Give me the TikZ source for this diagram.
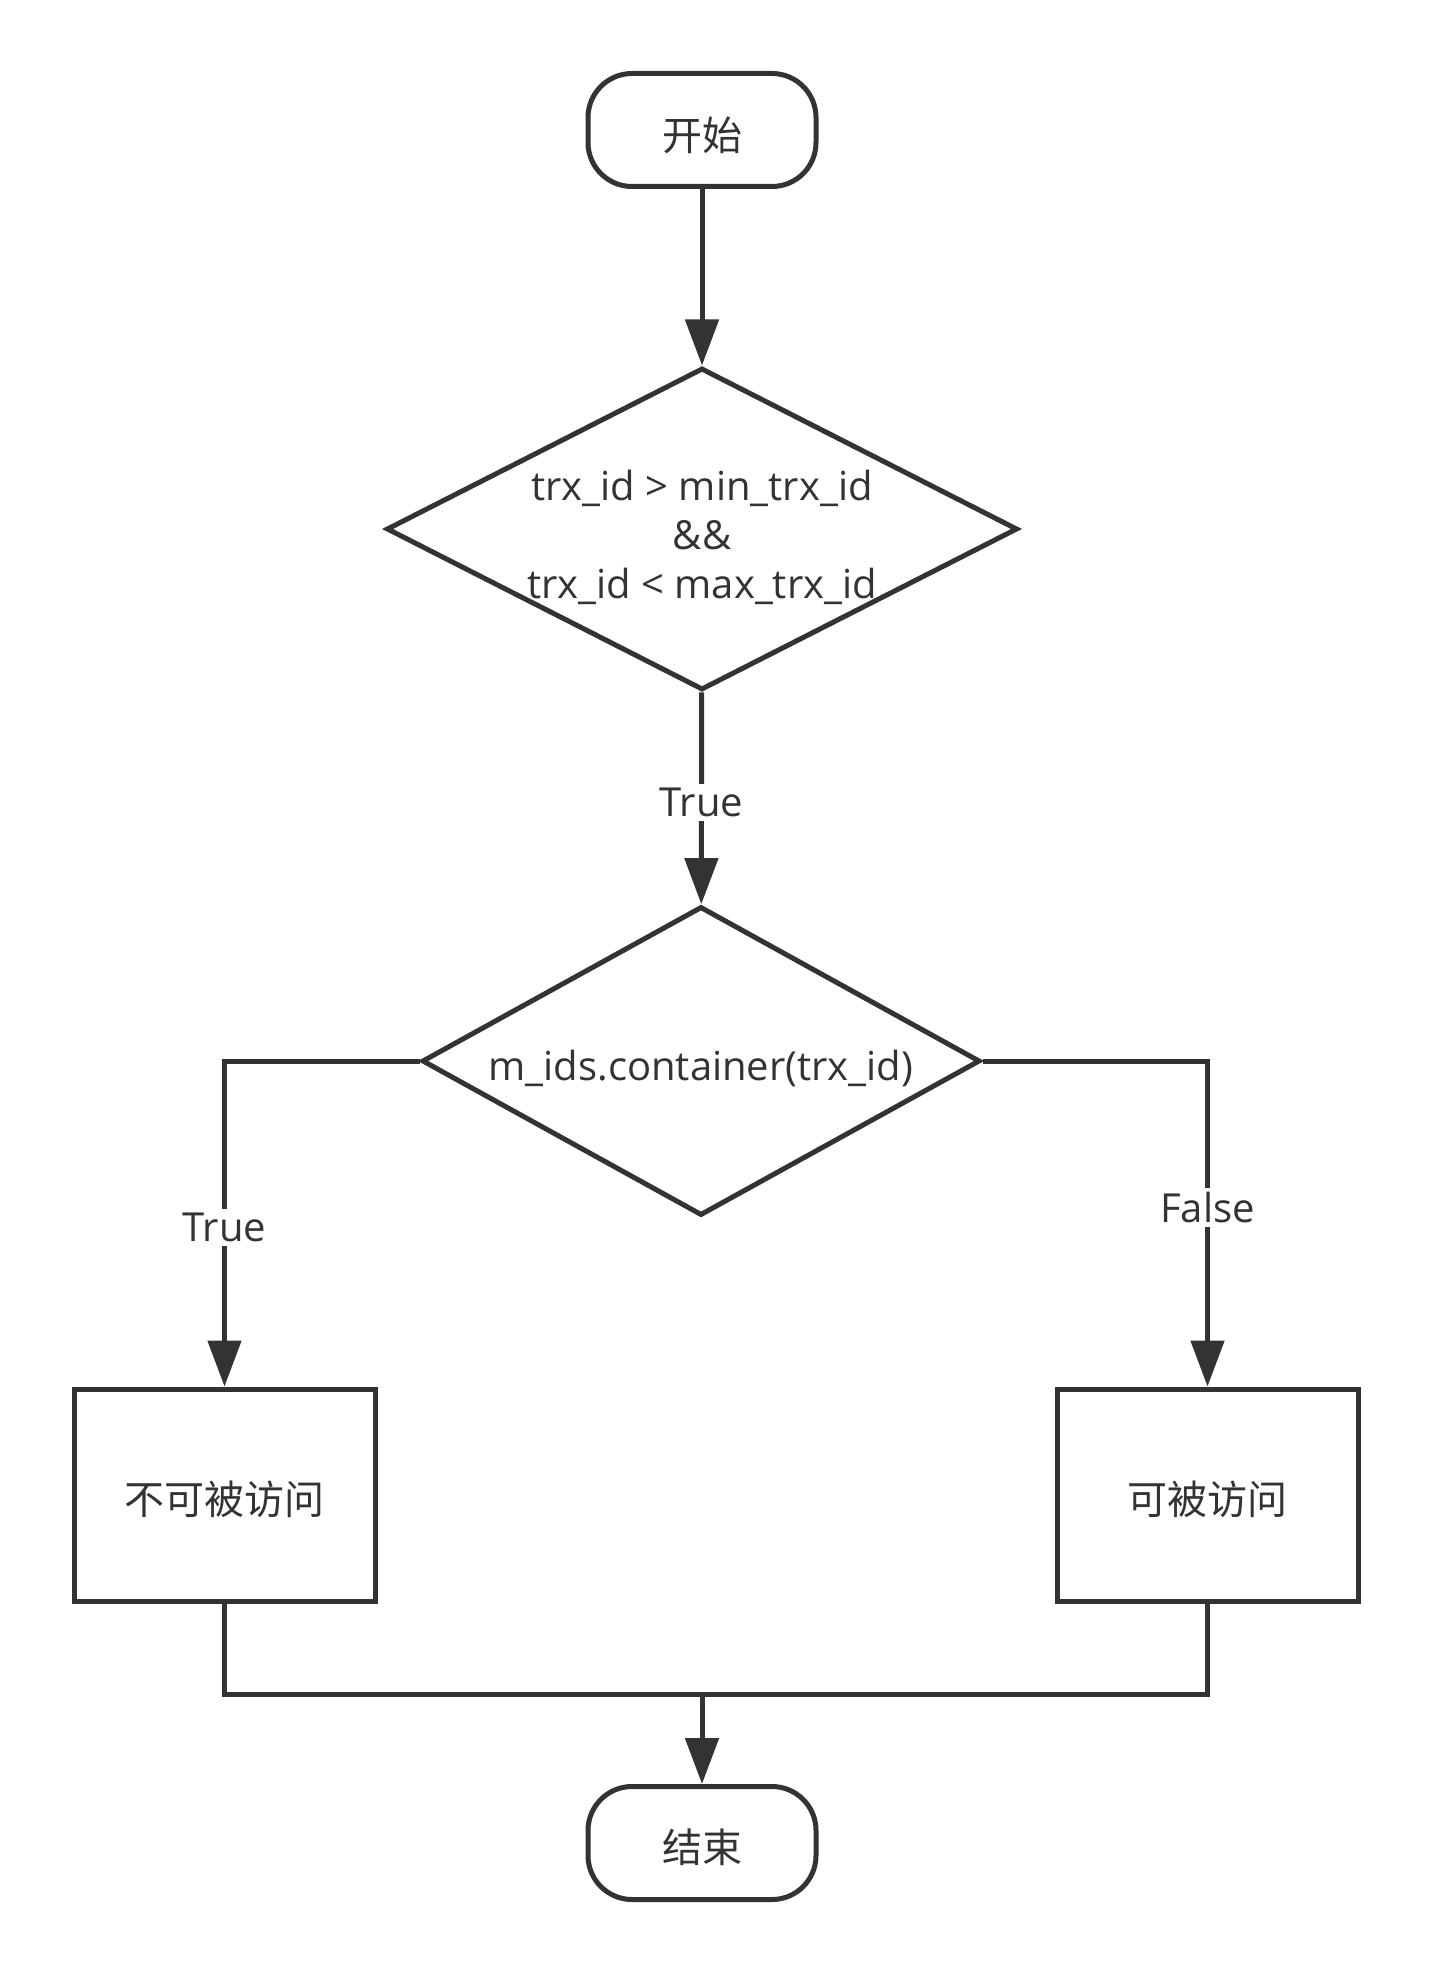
\documentclass[tikz,border=0pt]{standalone}
\usepackage{fontspec}
\setmainfont{Open Sans}
\newfontfamily\cjk{Noto Sans CJK SC}
\usetikzlibrary{shapes.geometric,arrows.meta}
\definecolor{ink}{HTML}{333333}
\begin{document}
\begin{tikzpicture}[x=0.5pt,y=-0.5pt,
  every node/.style={font=\fontsize{20pt}{24.5pt}\selectfont, text=ink},
  inkline/.style={draw=ink, line width=2.5pt},
  arr/.style={inkline, -{Triangle[length=23pt,width=16.5pt]}},
  term/.style={inkline, rectangle, rounded corners=22pt, minimum width=114pt, minimum height=56.5pt, inner sep=0pt},
  dec/.style={inkline, diamond, inner sep=0pt},
  proc/.style={inkline, rectangle, minimum width=150.5pt, minimum height=106pt, inner sep=0pt},
  lab/.style={fill=white, inner sep=2pt},
  txt/.style={inner sep=0pt, align=center}]
\useasboundingbox[fill=white] (0,0) rectangle (1432,1974);

\node[term] (start) at (702,130) {};
\node[txt] (startt) at (702,135) {\cjk 开始};
\node[dec, minimum width=315.5pt, minimum height=161pt] (d1) at (702,529) {};
\node[txt] (d1t) at (702,537) {trx\_id > min\_trx\_id\\\&\&\\trx\_id < max\_trx\_id};
\node[dec, minimum width=279pt, minimum height=154.5pt] (d2) at (701,1061) {};
\node[txt] (d2t) at (701,1068) {m\_ids.container(trx\_id)};
\node[proc] (no) at (224.5,1495) {};
\node[txt] (not) at (224.5,1499) {\cjk 不可被访问};
\node[proc] (yes) at (1207.5,1495) {};
\node[txt] (yest) at (1207.5,1499) {\cjk 可被访问};
\node[term] (end) at (702,1843) {};
\node[txt] (endt) at (702,1847) {\cjk 结束};
\coordinate (m) at (702,1694);

\draw[arr] (start) -- (d1);
\draw[arr] (d1) -- node[lab, yshift=-2pt]{True} (d2);
\draw[arr] (d2.west) -| node[lab, pos=0.75, yshift=-2pt]{True} (no.north);
\draw[arr] (d2.east) -| node[lab, pos=0.725]{False} (yes.north);
\draw[inkline] (no.south) |- (m) -| (yes.south);
\draw[arr] (m) -- (end);
\end{tikzpicture}
\end{document}
